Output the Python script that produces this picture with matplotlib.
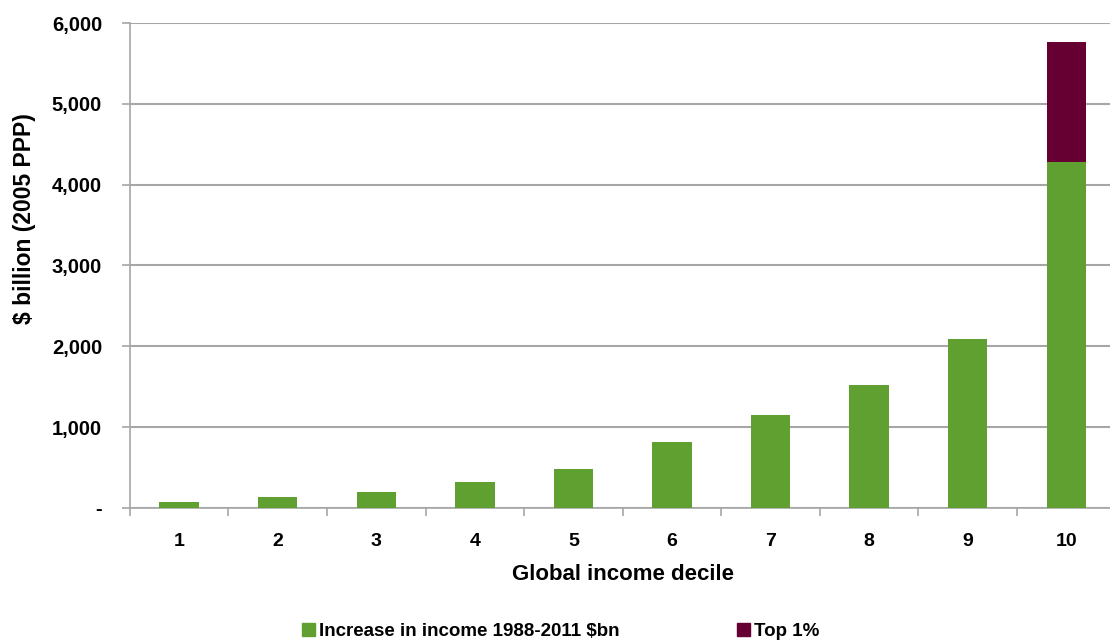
import matplotlib.pyplot as plt
import numpy as np
from matplotlib.patches import Patch

deciles = ['1', '2', '3', '4', '5', '6', '7', '8', '9', '10']
increase = [70, 130, 195, 320, 485, 815, 1150, 1520, 2090, 4280]
top1 = [0, 0, 0, 0, 0, 0, 0, 0, 0, 1490]
yticks = [0, 1000, 2000, 3000, 4000, 5000, 6000]
ytick_labels = ['-', '1,000', '2,000', '3,000', '4,000', '5,000', '6,000']

plt.rcParams['font.family'] = ['Liberation Sans', 'DejaVu Sans']
plt.rcParams['font.weight'] = 'bold'

green = '#5fa030'
maroon = '#660033'

fig = plt.figure(figsize=(11.1, 6.42), dpi=100)
ax = fig.add_axes([0.117, 0.209, 0.888, 0.755])

x = np.arange(len(deciles))
ax.bar(x, increase, width=0.4, color=green, zorder=3)
ax.bar(x, top1, width=0.4, bottom=increase, color=maroon, zorder=3)

ax.set_xlim(-0.5, len(deciles) - 0.5)
ax.set_ylim(0, 6000)
ax.set_yticks(yticks)
ax.set_yticklabels(ytick_labels, fontsize=14.5, fontweight='bold')
ax.yaxis.grid(True, color='#a6a6a6', linewidth=1.5, zorder=0)

ax.set_xticks(x)
ax.set_xticklabels(deciles, fontsize=14, fontweight='bold')
ax.tick_params(axis='x', length=0, pad=18)
ax.set_xticks(np.arange(-0.5, len(deciles)), minor=True)
ax.tick_params(axis='x', which='minor', length=6, color='#a6a6a6', width=1.2)
ax.tick_params(axis='y', length=6, color='#a6a6a6', width=1.2, pad=14)

for s in ['top', 'right']:
    ax.spines[s].set_visible(False)
for s in ['left', 'bottom']:
    ax.spines[s].set_color('#a6a6a6')
    ax.spines[s].set_linewidth(1.2)

ax.set_xlabel('Global income decile', fontsize=16, fontweight='bold', labelpad=10)
fig.text(0.022, 0.66, '$ billion (2005 PPP)', rotation=90, fontsize=16.5,
         fontweight='bold', ha='center', va='center')

handles = [Patch(color=green, label='Increase in income 1988-2011 $bn'),
           Patch(color=maroon, label='Top 1%')]
fig.legend(handles=handles, loc='center', bbox_to_anchor=(0.505, 0.016),
           ncol=2, frameon=False, fontsize=13.5, handlelength=0.7,
           handleheight=0.7, handletextpad=0.2, columnspacing=6.3)

fig.savefig('out.png', dpi=100)
